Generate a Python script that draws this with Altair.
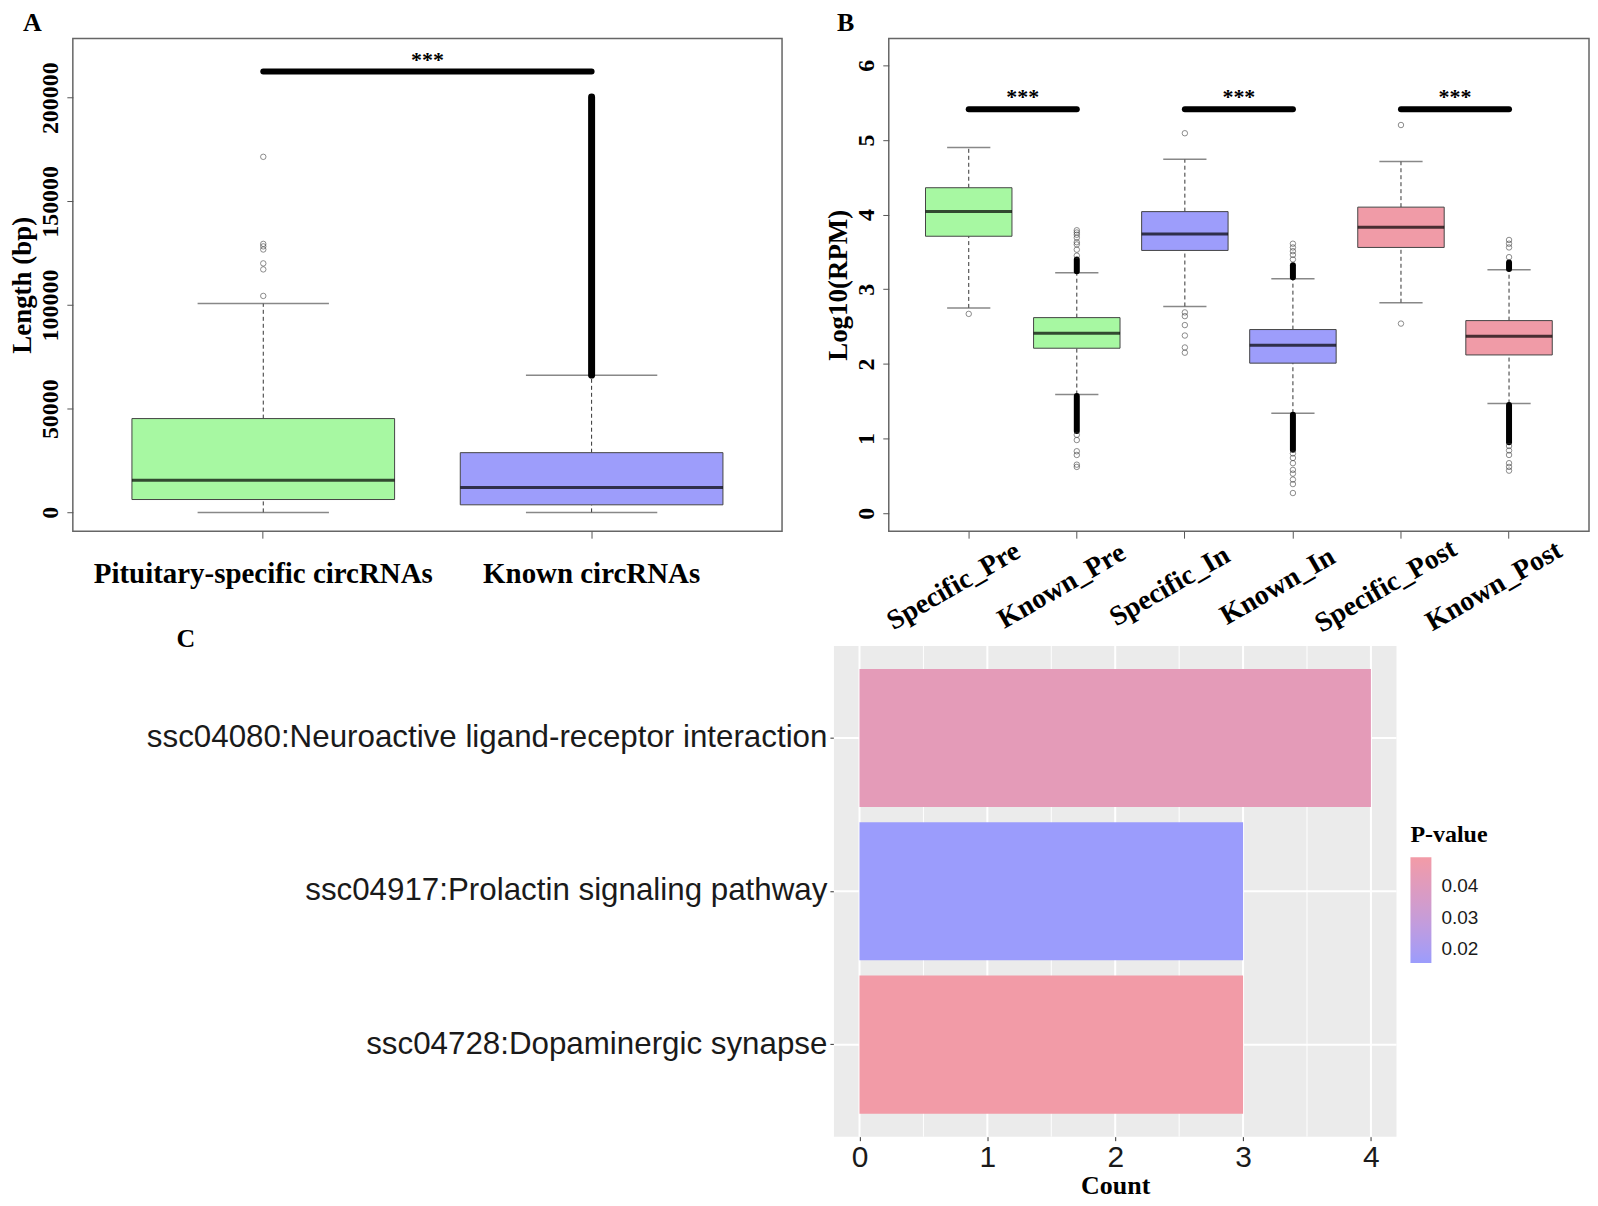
import altair as alt
import pandas as pd

SERIF = "Liberation Serif"
SANS = "Liberation Sans"
GREEN = "#A7F8A2"
BLUE = "#9D9DFB"
PINK = "#F09BA7"

# ---------------- Panel A : circRNA length ----------------
a_cats = ["Pituitary-specific circRNAs", "Known circRNAs"]
a_low = [0, 0]
a_q1 = [6200, 3650]
a_median = [15500, 12000]
a_q3 = [45250, 28800]
a_high = [100700, 66200]
a_fill = [GREEN, BLUE]
a_out_cat = ["Pituitary-specific circRNAs"] * 7
a_out_val = [104400, 117200, 120100, 126800, 128300, 129500, 171500]
a_dense_cat = ["Known circRNAs"]
a_dense_from = [66200]
a_dense_to = [200400]
a_sig_pairs = [("Pituitary-specific circRNAs", "Known circRNAs")]
a_sig_level = 212600
a_yticks = [0, 50000, 100000, 150000, 200000]

# ---------------- Panel B : expression ----------------
b_cats = ["Specific_Pre", "Known_Pre", "Specific_In", "Known_In", "Specific_Post", "Known_Post"]
b_low = [2.75, 1.59, 2.77, 1.34, 2.82, 1.47]
b_q1 = [3.71, 2.21, 3.52, 2.01, 3.56, 2.12]
b_median = [4.04, 2.41, 3.74, 2.25, 3.83, 2.37]
b_q3 = [4.36, 2.62, 4.04, 2.46, 4.10, 2.58]
b_high = [4.90, 3.22, 4.74, 3.14, 4.71, 3.26]
b_fill = [GREEN, GREEN, BLUE, BLUE, PINK, PINK]
b_out_cat = (["Specific_Pre"] * 1 + ["Known_Pre"] * 14 + ["Specific_In"] * 7
             + ["Known_In"] * 13 + ["Specific_Post"] * 2 + ["Known_Post"] * 10)
b_out_val = [2.67,
             3.45, 3.53, 3.60, 3.63, 3.69, 3.73, 3.76, 3.79, 1.05, 0.98, 0.83, 0.78, 0.65, 0.62,
             5.09, 2.69, 2.64, 2.52, 2.38, 2.22, 2.15,
             3.40, 3.46, 3.51, 3.56, 3.61, 0.80, 0.74, 0.67, 0.58, 0.53, 0.45, 0.39, 0.27,
             5.20, 2.54,
             3.43, 3.56, 3.61, 3.66, 0.90, 0.84, 0.78, 0.67, 0.62, 0.57]
b_dense_cat = ["Known_Pre", "Known_Pre", "Known_In", "Known_In", "Known_Post", "Known_Post"]
b_dense_from = [3.24, 1.10, 3.16, 0.85, 3.27, 0.95]
b_dense_to = [3.40, 1.57, 3.32, 1.32, 3.36, 1.45]
b_sig_pairs = [("Specific_Pre", "Known_Pre"), ("Specific_In", "Known_In"), ("Specific_Post", "Known_Post")]
b_sig_level = 5.41
b_yticks = [0, 1, 2, 3, 4, 5, 6]

# ---------------- Panel C : KEGG ----------------
c_terms = ["ssc04080:Neuroactive ligand-receptor interaction",
           "ssc04917:Prolactin signaling pathway",
           "ssc04728:Dopaminergic synapse"]
c_count = [4, 3, 3]
c_pvalue = [0.0425, 0.0156, 0.0492]
c_xlimits = [-0.2, 4.2]
c_xticks = [0, 1, 2, 3, 4]
c_minor = [0.5, 1.5, 2.5, 3.5]
c_legend_ticks = [0.02, 0.03, 0.04]


def box_panel(cats, low, q1, med, q3, high, fills, out_cat, out_val,
              dense_cat, dense_from, dense_to, sig_pairs, sig_level,
              *, width, height, ydomain, yticks, ytitle, xaxis, pad_outer,
              title, title_dx, dense_w):
    step = width / (len(cats) - 0.2 + 2 * pad_outer)
    box_w = 0.8 * step
    stats = pd.DataFrame(dict(cat=cats, low=low, q1=q1, med=med, q3=q3, high=high, fill=fills))
    outl = pd.DataFrame(dict(cat=out_cat, val=out_val))
    dense = pd.DataFrame(dict(cat=dense_cat, lo=dense_from, hi=dense_to))
    sig_rows = []
    for i, (c1, c2) in enumerate(sig_pairs):
        sig_rows.append(dict(pair=i, cat=c1, level=sig_level, first=True))
        sig_rows.append(dict(pair=i, cat=c2, level=sig_level, first=False))
    sig = pd.DataFrame(sig_rows)

    xs = alt.Scale(domain=cats, paddingInner=0.2, paddingOuter=pad_outer)
    ys = alt.Scale(domain=ydomain, nice=False, zero=False)
    yaxis = alt.Axis(values=yticks, format="d", labelAngle=270, labelAlign="center",
                     labelBaseline="bottom", labelFont=SERIF, labelFontWeight="bold",
                     labelFontSize=24, labelColor="black", labelPadding=4, tickSize=6,
                     tickColor="#555", domain=False, grid=False, labelOverlap=False,
                     titleFont=SERIF, titleFontWeight="bold", titleFontSize=27,
                     titleColor="black", titlePadding=2)

    def X():
        return alt.X("cat:N", scale=xs, axis=xaxis, title=None)

    def Y(f):
        return alt.Y(f, type="quantitative", scale=ys, axis=yaxis, title=ytitle)

    base = alt.Chart(stats)
    whisk_hi = base.mark_rule(color="#333", strokeWidth=1, strokeDash=[4, 3]).encode(
        x=X(), y=Y("q3"), y2="high")
    whisk_lo = base.mark_rule(color="#333", strokeWidth=1, strokeDash=[4, 3]).encode(
        x=X(), y=Y("low"), y2="q1")
    cap_hi = base.mark_tick(color="#555", thickness=1.5, size=box_w * 0.5).encode(x=X(), y=Y("high"))
    cap_lo = base.mark_tick(color="#555", thickness=1.5, size=box_w * 0.5).encode(x=X(), y=Y("low"))
    boxes = base.mark_bar(stroke="#444", strokeWidth=1).encode(
        x=X(), y=Y("q1"), y2="q3", fill=alt.Fill("fill:N", scale=None))
    medians = base.mark_tick(color="black", thickness=3, size=box_w).encode(x=X(), y=Y("med"))
    outs = alt.Chart(outl).mark_point(shape="circle", filled=False, size=30, strokeWidth=0.8,
                                      color="#333").encode(x=X(), y=Y("val"))
    dens = alt.Chart(dense).mark_rule(color="black", strokeWidth=dense_w, strokeCap="round").encode(
        x=X(), y=Y("lo"), y2="hi")
    sig_line = alt.Chart(sig).mark_line(color="black", strokeWidth=6, strokeCap="round").encode(
        x=X(), y=Y("level"), detail="pair:N")
    stars = alt.Chart(sig).transform_filter("datum.first").mark_text(
        text="***", font=SERIF, fontWeight="bold", fontSize=22, color="black",
        baseline="alphabetic", align="center", dx=step / 2, dy=-5).encode(x=X(), y=Y("level"))

    return alt.layer(whisk_hi, whisk_lo, cap_hi, cap_lo, boxes, medians, dens, outs,
                     sig_line, stars).properties(
        width=width, height=height,
        view=alt.ViewBackground(fill="white", stroke="#666", strokeWidth=1.5),
        title=alt.TitleParams(title, anchor="start", frame="bounds", dx=title_dx, offset=-19,
                              font=SERIF, fontWeight="bold", fontSize=26, color="black",
                              baseline="alphabetic"))


A_WIDTH = 711
a_xaxis = alt.Axis(labelAngle=0, labelFont=SERIF, labelFontWeight="bold", labelFontSize=29,
                   labelColor="black", labelPadding=21, tickSize=7, tickColor="#555",
                   domain=False, grid=False, labelOverlap=False, labelLimit=600)
panel_a = box_panel(a_cats, a_low, a_q1, a_median, a_q3, a_high, a_fill, a_out_cat, a_out_val,
                    a_dense_cat, a_dense_from, a_dense_to, a_sig_pairs, a_sig_level,
                    width=A_WIDTH, height=494, ydomain=[-9070, 228600], yticks=a_yticks,
                    ytitle="Length (bp)", xaxis=a_xaxis, pad_outer=0.18,
                    title="A", title_dx=14, dense_w=7)

b_xaxis = alt.Axis(labelAngle=330, labelAlign="center", labelBaseline="middle", labelPadding=48,
                   labelOffset=-15, labelFont=SERIF, labelFontWeight="bold", labelFontSize=28,
                   labelColor="black", tickSize=7, tickColor="#555", domain=False, grid=False,
                   labelOverlap=False, labelLimit=600)
panel_b = box_panel(b_cats, b_low, b_q1, b_median, b_q3, b_high, b_fill, b_out_cat, b_out_val,
                    b_dense_cat, b_dense_from, b_dense_to, b_sig_pairs, b_sig_level,
                    width=702, height=494, ydomain=[-0.241, 6.36], yticks=b_yticks,
                    ytitle="Log10(RPM)", xaxis=b_xaxis, pad_outer=0.34,
                    title="B", title_dx=12, dense_w=6)

# ---------------- Panel C chart ----------------
# C shares its left origin with panel A's plot; the grey ggplot panel occupies the right part.
C_ORIGIN = 71          # page x of panel A's plot origin
C_PANEL_L = 834 - C_ORIGIN
C_PANEL_R = 1398 - C_ORIGIN
C_HEIGHT = 492

c_df = pd.DataFrame(dict(term=c_terms, count=c_count, p=c_pvalue,
                         lo=[c_xlimits[0]] * 3, hi=[c_xlimits[1]] * 3))
panel_df = pd.DataFrame(dict(lo=[c_xlimits[0]], hi=[c_xlimits[1]]))
major_df = pd.DataFrame(dict(m=c_xticks))
minor_df = pd.DataFrame(dict(m=c_minor))

cxs = alt.Scale(domain=c_xlimits, nice=False, zero=False, range=[C_PANEL_L, C_PANEL_R])
cys = alt.Scale(domain=c_terms, paddingInner=0.1, paddingOuter=0.15)
c_xaxis = alt.Axis(values=c_xticks, format="d", grid=False,
                   tickColor="#333", tickSize=4, labelFont=SANS, labelFontSize=30,
                   labelColor="#1a1a1a", labelPadding=2, domain=False, titleFont=SERIF,
                   titleFontWeight="bold", titleFontSize=26, titleColor="black", titlePadding=0)
c_yaxis = alt.Axis(grid=False, tickColor="#333", tickSize=4, labelFont=SANS, labelFontSize=31.4,
                   labelColor="#1a1a1a", labelPadding=3, labelLimit=1000, domain=False,
                   offset=-C_PANEL_L)


def CX(f):
    return alt.X(f, type="quantitative", scale=cxs, axis=c_xaxis, title="Count")


def CY():
    return alt.Y("term:N", scale=cys, axis=c_yaxis, title=None)


panel_bg = alt.Chart(panel_df).mark_rect(color="#EBEBEB").encode(x=CX("lo"), x2="hi")
minor = alt.Chart(minor_df).mark_rule(color="white", strokeWidth=1).encode(x=CX("m"))
major_v = alt.Chart(major_df).mark_rule(color="white", strokeWidth=2).encode(x=CX("m"))
major_h = alt.Chart(c_df).mark_rule(color="white", strokeWidth=2).encode(
    x=CX("lo"), x2="hi", y=CY())
bars = alt.Chart(c_df).mark_bar().encode(
    x=CX("count"),
    x2=alt.datum(0),
    y=CY(),
    color=alt.Color("p:Q",
                    scale=alt.Scale(domain=[0.0156, 0.0492], range=["#9B9CFC", "#F29BA7"],
                                    interpolate="lab"),
                    legend=alt.Legend(orient="none", legendX=1412 - C_ORIGIN, legendY=178,
                                      direction="vertical",
                                      title="P-value", titleFont=SERIF, titleFontWeight="bold",
                                      titleFontSize=24, titleColor="black", titlePadding=10,
                                      gradientLength=106, gradientThickness=21,
                                      gradientStrokeWidth=0, values=c_legend_ticks, format=".2f",
                                      labelFont=SANS, labelFontSize=19, labelColor="#1a1a1a",
                                      labelOffset=10, padding=0)),
)
panel_c = alt.layer(panel_bg, minor, major_v, major_h, bars).properties(
    width=C_PANEL_R, height=C_HEIGHT,
    view=alt.ViewBackground(fill="white", stroke="transparent"),
    title=alt.TitleParams("C", anchor="start", frame="group", dx=175 - C_ORIGIN, offset=-28,
                          font=SERIF, fontWeight="bold", fontSize=26, color="black",
                          baseline="alphabetic"))

top = alt.hconcat(panel_a, panel_b, spacing=41)
chart = alt.vconcat(top, panel_c, spacing=-14).resolve_scale(
    color="independent").resolve_legend(color="independent").properties(
    padding=0).configure_view(stroke="transparent")

chart.save("out.html", embed_options={"renderer": "svg", "actions": False})
